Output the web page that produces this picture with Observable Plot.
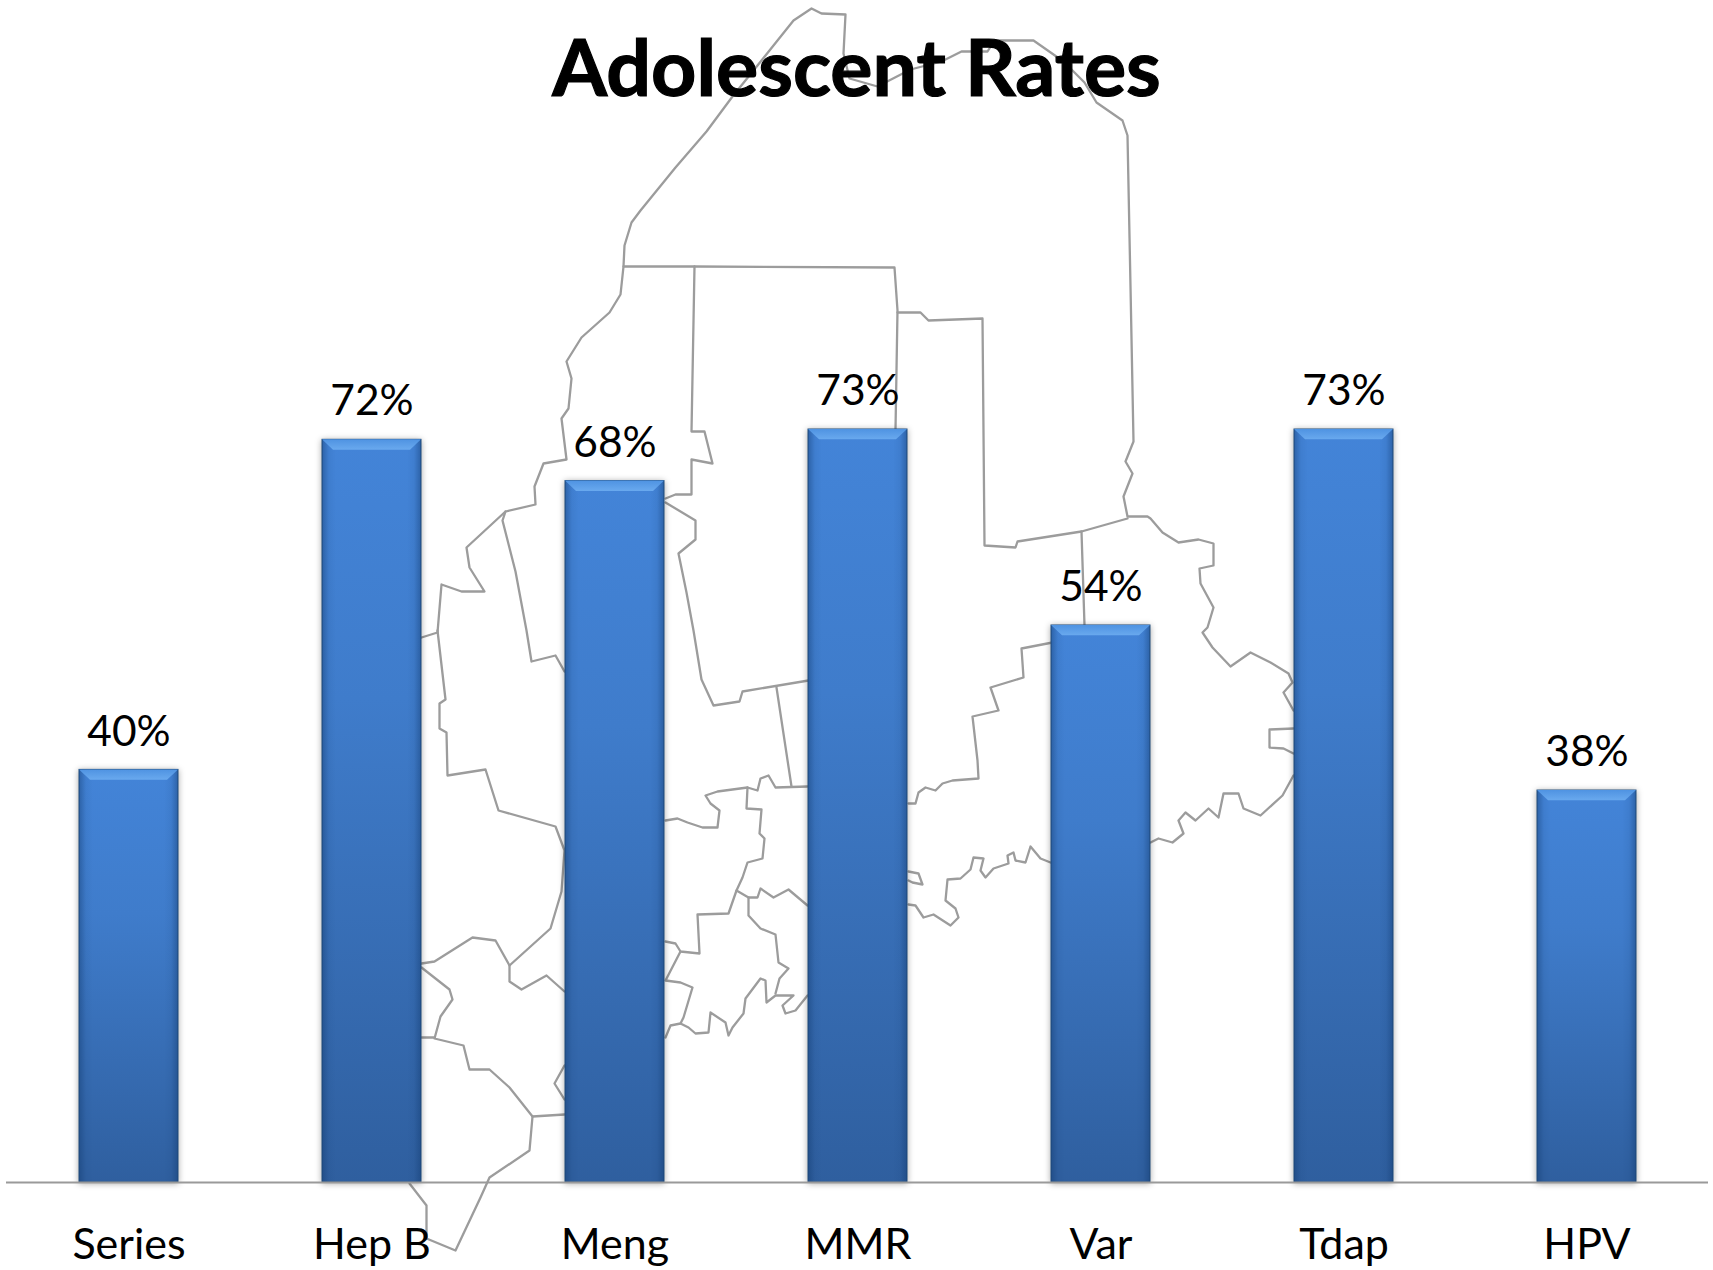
<!DOCTYPE html>
<html>
<head>
<meta charset="utf-8">
<script src="https://cdn.jsdelivr.net/npm/d3@7"></script>
<script src="https://cdn.jsdelivr.net/npm/@observablehq/plot@0.6"></script>
<style>
html,body{margin:0;padding:0;background:#fff;}
#stage{position:relative;width:1713px;height:1270px;overflow:hidden;}
#stage svg{position:absolute;left:0;top:0;background:transparent;}
#title{position:absolute;left:0;width:1713px;top:16px;margin:0;text-align:center;font:700 79px/100px Lato,sans-serif;color:#000;-webkit-text-stroke:1.2px #000;z-index:3;}
</style>
</head>
<body>
<div id="stage"><div id="title">Adolescent Rates</div></div>
<script>
const categories = ["Series","Hep B","Meng","MMR","Var","Tdap","HPV"];
const rates = [40,72,68,73,54,73,38];

// Background map outline (map units).
const mapNorthAndWest = [[421,637],[437,632],[441,584],[461,591],[484,591],[469,567],[466,547],[505,511],[535,504],[534,486],[543,463],[566,459],[561,418],[568,408],[571,378],[566,361],[581,337],[609,312],[620,294],[623,266],[624,245],[631,222],[640,210],[675,167],[706,131],[732,96],[757,65],[793,20],[811,8],[821,13],[845,14],[843,53],[849,78],[877,86],[910,69],[941,61],[961,51],[987,51],[994,40],[1033,40],[1063,61],[1084,82],[1096,102],[1122,120],[1127,135],[1130,286],[1133,441],[1125,461],[1132,473],[1123,496],[1127,516],[1147,516],[1150,518],[1162,532],[1178,542],[1198,539],[1213,543],[1213,565],[1199,568],[1200,583],[1213,607],[1207,627],[1202,632],[1212,647],[1230,666],[1250,652],[1270,662],[1288,673],[1292,682],[1283,692],[1293,710]];
const mapEastCoast = [[1293,775],[1282,795],[1260,815],[1243,808],[1238,793],[1223,793],[1218,817],[1208,808],[1195,820],[1185,812],[1178,820],[1183,833],[1172,842],[1158,838],[1150,842]];
const mapEastSquare = [[1293,728],[1269,729],[1269,747],[1283,748],[1293,753]];
const mapTopCounty = [[623,266],[694,266],[894,267],[897,310],[895,429]];
const mapSomerset = [[694,266],[691,431],[704,431],[712,463],[691,459],[691,494],[675,494],[665,498]];
const mapKennebec = [[665,502],[695,520],[695,539],[678,553],[686,592],[693,630],[701,679],[713,705],[739,701],[742,691],[808,680]];
const mapPenobscot = [[897,312],[920,312],[928,320],[982,318],[984,545],[1015,547],[1017,541],[1081,531],[1127,518]];
const mapHancockLine = [[1081,531],[1084,625]];
const mapWaldo = [[1052,642],[1021,648],[1023,677],[990,687],[998,710],[972,716],[977,760],[978,778],[952,780],[942,783],[935,790],[925,787],[918,792],[915,803],[908,803]];
const mapCoastMid = [[1050,862],[1040,858],[1030,846],[1025,862],[1015,860],[1013,852],[1007,855],[1008,863],[993,868],[985,877],[980,870],[983,858],[973,857],[970,869],[960,878],[947,879],[945,900],[955,908],[958,917],[950,925],[933,914],[923,917],[915,905],[908,904]];
const mapIsland = [[908,871],[918,873],[922,884],[912,882],[908,880]];
const mapLincolnLine = [[776,687],[791,786]];
const mapKnox = [[807,786],[775,787],[768,775],[760,778],[757,790],[747,787],[717,791],[705,795],[710,803],[719,810],[717,827],[702,827],[687,822],[677,818],[665,820]];
const mapSagadahoc = [[747,787],[746,808],[761,809],[759,833],[764,838],[762,858],[747,862],[742,877],[736,890],[728,913],[697,914],[699,953],[680,951],[675,943],[665,941]];
const mapBath = [[680,951],[665,980],[680,982],[692,987],[683,1017],[680,1023],[670,1025],[665,1037]];
const mapCascoCoast = [[680,1023],[688,1027],[695,1033],[708,1032],[710,1012],[725,1022],[728,1035],[732,1027],[743,1013],[745,998],[760,978],[765,980],[766,1002],[775,995],[793,995],[782,1005],[785,1013],[795,1010],[807,995]];
const mapRiverA = [[736,890],[748,897],[757,897],[760,888],[773,897],[788,889],[807,905]];
const mapRiverB = [[748,897],[748,915],[760,928],[775,934],[778,962],[788,968],[779,978],[775,993]];
const mapFranklin = [[505,511],[502,520],[515,571],[526,630],[531,661],[555,655],[564,671]];
const mapOxford = [[437,630],[445,699],[439,703],[439,728],[446,732],[447,775],[485,769],[498,810],[555,826],[564,850],[561,891],[550,928],[509,965],[509,981],[521,989],[546,975],[564,991]];
const mapCumberlandTop = [[509,965],[495,940],[472,937],[434,961],[421,963]];
const mapYork = [[421,967],[449,989],[452,999],[440,1016],[434,1038],[463,1045],[469,1069],[489,1069],[509,1087],[532,1116],[564,1114]];
const mapSouthTip = [[532,1116],[529,1150],[489,1177],[480,1197],[455,1250],[426,1238],[426,1205],[409,1183]];
const mapYorkStub = [[421,1037],[434,1037]];
const mapNotch = [[564,1065],[554,1083],[564,1099]];

const mapPaths = [mapNorthAndWest,mapEastCoast,mapEastSquare,mapTopCounty,mapSomerset,mapKennebec,mapPenobscot,mapHancockLine,mapWaldo,mapCoastMid,mapIsland,mapLincolnLine,mapKnox,mapSagadahoc,mapBath,mapCascoCoast,mapRiverA,mapRiverB,mapFranklin,mapOxford,mapCumberlandTop,mapYork,mapSouthTip,mapYorkStub,mapNotch];
const mapRows = mapPaths.flatMap((p,i)=>p.map(([x,y])=>({x,y,id:i})));
const barRows = categories.map((name,i)=>({name,value:rates[i]}));

const mapPlot = Plot.plot({
  width:1713,height:1270,margin:0,
  x:{domain:[0,1713],range:[0,1713],axis:null},
  y:{domain:[0,1270],range:[0,1270],axis:null},
  marks:[Plot.line(mapRows,{x:"x",y:"y",z:"id",stroke:"#9c9c9c",strokeWidth:2.3,curve:"linear"})]
});

const chart = Plot.plot({
  width:1713,height:1270,
  marginLeft:6,marginRight:5,marginTop:429,marginBottom:88,
  style:{fontFamily:"Lato, sans-serif",background:"transparent",color:"#000"},
  x:{domain:categories,paddingInner:0.593,paddingOuter:0.2965,label:null},
  y:{domain:[0,73],axis:null},
  marks:[
    Plot.barY(barRows,{x:"name",y:"value",fill:"url(#barFill)",stroke:"#24507f",strokeWidth:1}),
    Plot.barY(barRows,{x:"name",y:"value",fill:"url(#barSide)"}),
    Plot.barY(barRows,{x:"name",y1:d=>d.value-1,y2:"value",fill:"url(#barBevel)"}),
    Plot.ruleY([0],{stroke:"#9a9a9a",strokeWidth:2}),
    Plot.text(barRows,{x:"name",y:"value",text:d=>d.value+"%",dy:-38,fontSize:42.5,fill:"#000"}),
    Plot.axisX({tickSize:0,tickPadding:46,fontSize:43,label:null,fill:"#000"})
  ]
});

const stage=document.getElementById("stage");
stage.appendChild(mapPlot);
stage.appendChild(chart);

const defs=d3.select(chart).insert("defs",":first-child");
function grad(id,vertical,stops){
  const g=defs.append("linearGradient").attr("id",id).attr("x1",0).attr("y1",0).attr("x2",vertical?0:1).attr("y2",vertical?1:0);
  stops.forEach(([o,c,a])=>g.append("stop").attr("offset",o).attr("stop-color",c).attr("stop-opacity",a));
}
grad("barFill",true,[[0,"#4384d8",1],[0.35,"#3f7ccb",1],[1,"#2f5f9f",1]]);
grad("barSide",false,[[0,"#123a6e",0.45],[0.07,"#123a6e",0.08],[0.14,"#123a6e",0],[0.86,"#123a6e",0],[0.93,"#123a6e",0.08],[1,"#123a6e",0.45]]);
grad("barBevel",true,[[0,"#4f93e2",1],[1,"#69a9ee",1]]);
const barGroups=chart.querySelectorAll('g[aria-label="bar"]');
d3.select(barGroups[0]).selectAll("rect").style("filter","drop-shadow(0 1px 3px rgba(0,0,0,.35))");
// Turn each bevel bar that Plot drew into a trapezoid, from the bar's own box.
const bevelInset=11;
d3.select(barGroups[2]).selectAll("rect").each(function(){
  const b=this.getBBox();
  const shape=document.createElementNS("http://www.w3.org/2000/svg","polygon");
  shape.setAttribute("points",[[b.x,b.y],[b.x+b.width,b.y],[b.x+b.width-bevelInset,b.y+b.height],[b.x+bevelInset,b.y+b.height]].join(" "));
  shape.setAttribute("fill","url(#barBevel)");
  const t=this.getAttribute("transform"); if(t) shape.setAttribute("transform",t);
  this.replaceWith(shape);
});
</script>
</body>
</html>
